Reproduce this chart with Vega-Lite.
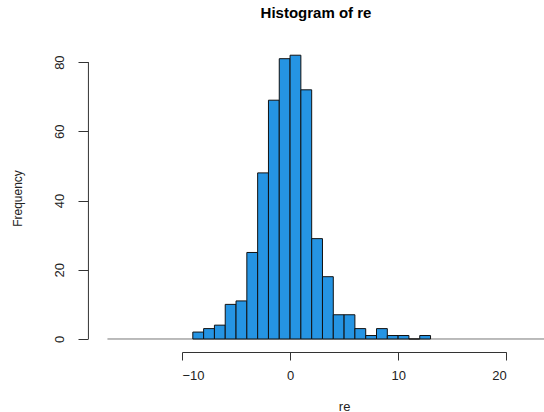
{
  "$schema": "https://vega.github.io/schema/vega-lite/v6.json",
  "width": 456,
  "height": 308,
  "autosize": {"type": "none"},
  "padding": {"left": 88, "top": 44, "right": 0, "bottom": 60},
  "background": "white",
  "title": {"text": "Histogram of re", "font": "Liberation Sans", "fontSize": 15, "fontWeight": "bold", "anchor": "middle", "offset": 23, "color": "black"},
  "config": {"view": {"stroke": null}},
  "datasets": {
    "hist": [
      {"x": -9, "x2": -8, "y": 2},
      {"x": -8, "x2": -7, "y": 3},
      {"x": -7, "x2": -6, "y": 4},
      {"x": -6, "x2": -5, "y": 10},
      {"x": -5, "x2": -4, "y": 11},
      {"x": -4, "x2": -3, "y": 25},
      {"x": -3, "x2": -2, "y": 48},
      {"x": -2, "x2": -1, "y": 69},
      {"x": -1, "x2": 0, "y": 81},
      {"x": 0, "x2": 1, "y": 82},
      {"x": 1, "x2": 2, "y": 72},
      {"x": 2, "x2": 3, "y": 29},
      {"x": 3, "x2": 4, "y": 18},
      {"x": 4, "x2": 5, "y": 7},
      {"x": 5, "x2": 6, "y": 7},
      {"x": 6, "x2": 7, "y": 3},
      {"x": 7, "x2": 8, "y": 1},
      {"x": 8, "x2": 9, "y": 3},
      {"x": 9, "x2": 10, "y": 1},
      {"x": 10, "x2": 11, "y": 1},
      {"x": 11, "x2": 12, "y": 0},
      {"x": 12, "x2": 13, "y": 1}
    ],
    "baseline": [{"x": -16.9, "x2": 23.5, "y": 0}],
    "xaxisrange": [{"x": -10, "x2": 20, "y": 0}],
    "vline": [{"x": -18.66, "y": 0, "y2": 80}]
  },
  "resolve": {"scale": {"x": "independent"}, "axis": {"x": "independent"}},
  "layer": [
    {
      "layer": [
        {
          "data": {"name": "baseline"},
          "mark": {"type": "rule", "color": "#777777", "strokeWidth": 1},
          "encoding": {
            "x": {"field": "x", "type": "quantitative", "scale": {"domain": [-18.7, 23.5], "nice": false, "zero": false}, "axis": null},
            "x2": {"field": "x2"},
            "y": {"field": "y", "type": "quantitative", "scale": {"domain": [-3.76, 85.24], "nice": false, "zero": false},
              "axis": {"values": [0, 20, 40, 60, 80], "domain": false, "grid": false, "tickSize": 10, "tickColor": "#333333", "labelFont": "Liberation Sans", "labelFontSize": 13, "labelColor": "#222222", "labelAngle": -90, "labelAlign": "center", "labelBaseline": "bottom", "labelPadding": 12, "title": "Frequency", "titleFont": "Liberation Sans", "titleFontSize": 12, "titleFontWeight": "normal", "titleColor": "#222222", "titlePadding": 29}}
          }
        },
        {
          "data": {"name": "hist"},
          "mark": {"type": "bar", "fill": "#2594E3", "stroke": "#111111", "strokeWidth": 1},
          "encoding": {
            "x": {"field": "x", "type": "quantitative"},
            "x2": {"field": "x2"},
            "y": {"field": "y", "type": "quantitative"},
            "y2": {"datum": 0}
          }
        },
        {
          "data": {"name": "vline"},
          "mark": {"type": "rule", "color": "#333333", "strokeWidth": 1},
          "encoding": {
            "x": {"field": "x", "type": "quantitative"},
            "y": {"field": "y", "type": "quantitative"},
            "y2": {"field": "y2"}
          }
        }
      ]
    },
    {
      "data": {"name": "xaxisrange"},
      "mark": {"type": "rule", "opacity": 0},
      "encoding": {
        "x": {"field": "x", "type": "quantitative", "scale": {"domain": [-10, 20], "range": [94, 418.2], "nice": false, "zero": false},
          "axis": {"orient": "bottom", "values": [-10, 0, 10, 20], "domain": true, "domainColor": "#333333", "grid": false, "tickSize": 8, "tickColor": "#333333", "labelFont": "Liberation Sans", "labelFontSize": 13, "labelColor": "#222222", "labelPadding": 9, "title": "re", "titleFont": "Liberation Sans", "titleFontSize": 13, "titleFontWeight": "normal", "titleColor": "#222222", "titlePadding": 18}},
        "x2": {"field": "x2"},
        "y": {"field": "y", "type": "quantitative"}
      }
    }
  ]
}
